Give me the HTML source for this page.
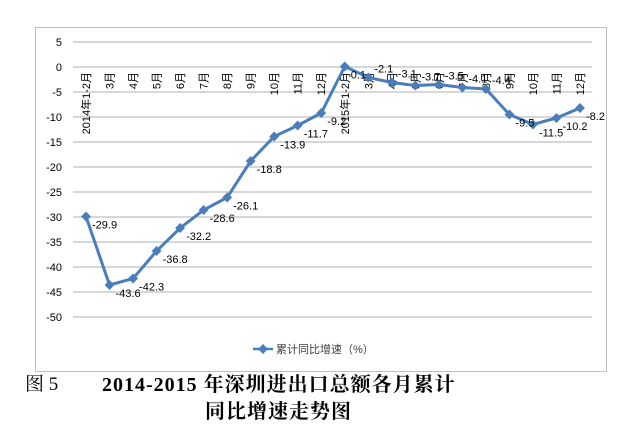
<!DOCTYPE html>
<html><head><meta charset="utf-8"><style>
body{margin:0;background:#fff;width:631px;height:438px;overflow:hidden;font-family:"Liberation Sans","Noto Sans CJK SC",sans-serif}
svg{position:absolute;left:0;top:0}
.cap{position:absolute;font-family:"Liberation Serif","Noto Serif CJK SC",serif;font-size:19px;line-height:22px;color:#000;white-space:nowrap}
</style></head><body>
<svg width="631" height="438">
<rect x="35.5" y="27.5" width="571" height="344" fill="#fff" stroke="#bfbfbf"/>
<g id="grid"></g><g id="yt"></g><g id="xt"></g><g id="series"></g><g id="labels"></g>
<g>
<line x1="253" y1="349" x2="273" y2="349" stroke="#4a7ebb" stroke-width="2.5"/>
<rect x="259.5" y="345.5" width="7" height="7" fill="#4a7ebb" transform="rotate(45 263 349)"/>
<text x="276" y="353" font-size="11" fill="#404040">累计同比增速（%）</text>
</g>
</svg>
<div class="cap" style="left:25px;top:374px">图 5</div>
<div class="cap" style="left:102px;top:374px;font-weight:bold;font-size:20px;letter-spacing:1px">2014-2015 年深圳进出口总额各月累计</div>
<div class="cap" style="left:205px;top:401px;font-weight:bold;font-size:20px;letter-spacing:1px">同比增速走势图</div>
<script>
const categories=["2014年1-2月","3月","4月","5月","6月","7月","8月","9月","10月","11月","12月","2015年1-2月","3月","4月","5月","6月","7月","8月","9月","10月","11月","12月"];
const values=[-29.9,-43.6,-42.3,-36.8,-32.2,-28.6,-26.1,-18.8,-13.9,-11.7,-9.2,0.1,-2.1,-3.1,-3.7,-3.5,-4.1,-4.4,-9.5,-11.5,-10.2,-8.2];
const yTicks=[5,0,-5,-10,-15,-20,-25,-30,-35,-40,-45,-50];
const NS="http://www.w3.org/2000/svg";
const y=v=>67-5*v, x=i=>86+i*(580-86)/(categories.length-1);
function mk(tag,attrs,parent){const e=document.createElementNS(NS,tag);for(const k in attrs)e.setAttribute(k,attrs[k]);document.getElementById(parent).appendChild(e);return e;}
yTicks.forEach(t=>{
 const g=mk('line',{x1:73,x2:592,y1:y(t),y2:y(t),stroke:'#bfbfbf','stroke-width':1.3},'grid');
 
 
 const tx=mk('text',{x:62,y:y(t)+4,'font-size':11,'text-anchor':'end',fill:'#000'},'yt');tx.textContent=t;
 
 
});
categories.forEach((c,i)=>{
 const t=mk('text',{x:0,y:0,'font-size':11,'text-anchor':'end',fill:'#000',transform:`translate(${x(i)+4},${y(0)+5}) rotate(-90)`},'xt');t.textContent=c;
 
 
});
const pl=mk('polyline',{points:values.map((v,i)=>x(i)+','+y(v)).join(' '),fill:'none',stroke:'#4a7ebb','stroke-width':3},'series');


values.forEach((v,i)=>{
 const m=mk('rect',{x:x(i)-3.5,y:y(v)-3.5,width:7,height:7,fill:'#4a7ebb',transform:`rotate(45 ${x(i)} ${y(v)})`},'series');
 
 
 const l=mk('text',{x:x(i)+6,y:y(v)+(i>=12&&i<=17?-5:12),'font-size':11,fill:'#000'},'labels');l.textContent=v.toFixed(1);
 
 
});
</script>
</body></html>
